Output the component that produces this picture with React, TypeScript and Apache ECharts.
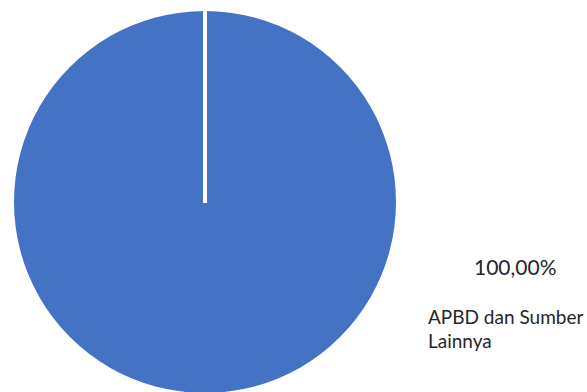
import React, { useEffect, useRef } from "react";
import * as echarts from "echarts";

const categories = ["APBD dan Sumber Lainnya"];
const values = [100];
const legendLabels = ["APBD dan Sumber\nLainnya"];

export default function App() {
  const ref = useRef<HTMLDivElement>(null);
  useEffect(() => {
    if (!ref.current) return;
    const chart = echarts.init(ref.current, undefined, { renderer: "svg" });
    const total = values.reduce((a, b) => a + b, 0);
    const pct = ((values[0] / total) * 100).toFixed(2).replace(".", ",") + "%";
    chart.setOption({
      animation: false,
      backgroundColor: "#ffffff",
      title: {
        text: pct,
        left: 469,
        top: 251,
        textStyle: {
          fontFamily: "Lato",
          fontSize: 21,
          fontWeight: "normal",
          color: "#262626",
        },
      },
      legend: {
        data: categories,
        left: 418,
        top: 299,
        icon: "none",
        itemWidth: 0,
        itemHeight: 0,
        orient: "vertical",
        formatter: (name: string) => legendLabels[categories.indexOf(name)],
        textStyle: {
          fontFamily: "Lato",
          fontSize: 19,
          lineHeight: 24,
          color: "#262626",
        },
      },
      series: [
        {
          type: "pie",
          center: [205, 202],
          radius: 191,
          startAngle: 90,
          label: { show: false },
          labelLine: { show: false },
          itemStyle: { color: "#4472C4" },
          data: categories.map((c, i) => ({ name: c, value: values[i] })),
        },
      ],
      graphic: [
        {
          type: "line",
          shape: { x1: 205, y1: 203, x2: 205, y2: 8 },
          style: { stroke: "#ffffff", lineWidth: 4 },
          z: 100,
        },
      ],
    });
    return () => chart.dispose();
  }, []);
  return (
    <div
      ref={ref}
      style={{ position: "absolute", left: 0, top: 0, width: 587, height: 392 }}
    />
  );
}
